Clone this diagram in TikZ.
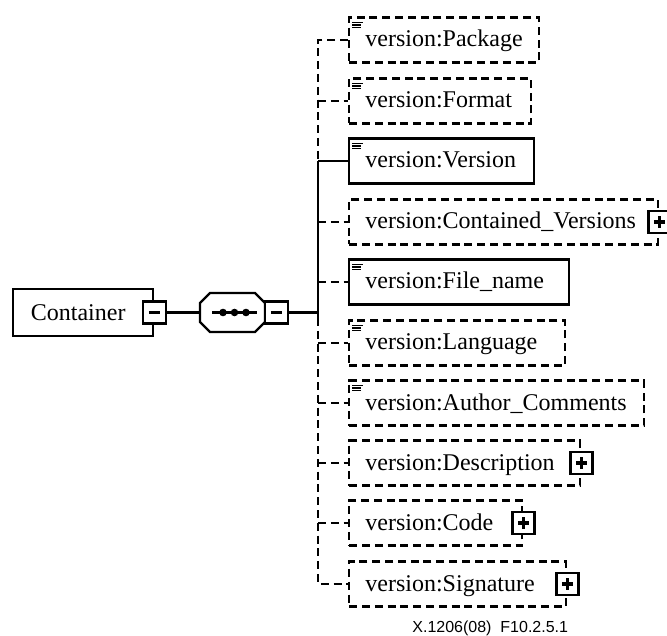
\documentclass[tikz,border=0pt]{standalone}
\usepackage{fontspec}
\setmainfont{Liberation Serif}
\newfontfamily\capfont{Liberation Sans}
\begin{document}
\begin{tikzpicture}[x=0.5pt,y=-0.5pt,
  box/.style={draw, line width=1.2pt, minimum height=22.5pt, inner sep=0pt, anchor=west, fill=white},
  optbox/.style={box, dash pattern=on 4pt off 2.4pt},
  reqbox/.style={box},
  lbl/.style={font=\fontsize{12}{14}\selectfont, anchor=base west, inner sep=0pt},
  conn/.style={line width=1.2pt},
  optconn/.style={conn, dash pattern=on 4pt off 2.4pt},
  thickconn/.style={line width=1.9pt},
  icon/.style={line width=0.6pt},
  signbox/.style={draw, fill=white, line width=1.2pt, minimum width=11pt, minimum height=11pt, inner sep=0pt},
  plusbox/.style={signbox, path picture={
      \draw[line width=1.6pt] ([xshift=-2.8pt]path picture bounding box.center) -- ([xshift=2.8pt]path picture bounding box.center)
                              ([yshift=-2.8pt]path picture bounding box.center) -- ([yshift=2.8pt]path picture bounding box.center);}},
  minusbox/.style={signbox, minimum width=11.5pt, path picture={
      \draw[line width=1.6pt] ([xshift=-2.8pt]path picture bounding box.center) -- ([xshift=2.8pt]path picture bounding box.center);}}
]
\useasboundingbox (0,0) rectangle (667,635);

% bus coordinates
\coordinate (b1) at (318,40);
\coordinate (b2) at (318,101);
\coordinate (b3) at (318,161);
\coordinate (b4) at (318,222);
\coordinate (b5) at (318,282);
\coordinate (b6) at (318,343);
\coordinate (b7) at (318,403);
\coordinate (b8) at (318,463);
\coordinate (b9) at (318,523);
\coordinate (b10) at (318,584);
\coordinate (bm) at (318,312.5);
\coordinate (bs) at (318,318);

% child element boxes
\node[optbox, minimum width=95pt]   (pkg)  at (348,40)  {};
\node[optbox, minimum width=91pt]   (fmt)  at (348,101) {};
\node[reqbox, minimum width=92.5pt] (ver)  at (348,161) {};
\node[optbox, minimum width=154.5pt](cv)   at (348,222) {};
\node[reqbox, minimum width=110pt]  (fn)   at (348,282) {};
\node[optbox, minimum width=108pt]  (lang) at (348,343) {};
\node[optbox, minimum width=147.5pt](ac)   at (348,403) {};
\node[optbox, minimum width=115.5pt](desc) at (348,463) {};
\node[optbox, minimum width=86.5pt] (code) at (348,523) {};
\node[optbox, minimum width=108.5pt](sig)  at (348,584) {};

% connectors
\draw[optconn] (pkg.west) -- (b1) -- (b3);
\draw[conn] (b3) -- (bs);
\draw[optconn] (bs) -- (b10) -- (sig.west);
\draw[optconn] (b2) -- (fmt.west);
\draw[conn] (b3) -- (ver.west);
\draw[optconn] (b4) -- (cv.west);
\draw[optconn] (b5) -- (fn.west);
\draw[optconn] (b6) -- (lang.west);
\draw[optconn] (b7) -- (ac.west);
\draw[optconn] (b8) -- (desc.west);
\draw[optconn] (b9) -- (code.west);

% labels
\node[lbl] (pkgt)  at ([shift={(17,7)}]pkg.west)  {version:Package};
\node[lbl] (fmtt)  at ([shift={(17,7)}]fmt.west)  {version:Format};
\node[lbl] (vert)  at ([shift={(17,7)}]ver.west)  {version:Version};
\node[lbl] (cvt)   at ([shift={(17,7)}]cv.west)   {version:Contained\_Versions};
\node[lbl] (fnt)   at ([shift={(17,7)}]fn.west)   {version:File\_name};
\node[lbl] (langt) at ([shift={(17,7)}]lang.west) {version:Language};
\node[lbl] (act)   at ([shift={(17,7)}]ac.west)   {version:Author\_Comments};
\node[lbl] (desct) at ([shift={(17,7)}]desc.west) {version:Description};
\node[lbl] (codet) at ([shift={(17,7)}]code.west) {version:Code};
\node[lbl] (sigt)  at ([shift={(17,7)}]sig.west)  {version:Signature};

% simple-content icons
\foreach \n in {pkg,fmt,ver,fn,lang,ac}{
  \draw[icon] ([shift={(4,6)}]\n.north west) -- ++(11,0);
  \draw[icon] ([shift={(4,8.7)}]\n.north west) -- ++(9,0);
  \draw[icon] ([shift={(4,11.4)}]\n.north west) -- ++(9,0);
}

% expand boxes
\node[plusbox] (cvp)   at (cv.east)   {};
\node[plusbox] (descp) at (desc.east) {};
\node[plusbox] (codep) at (code.east) {};
\node[plusbox] (sigp)  at (sig.east)  {};

% parent element and sequence
\node[box, minimum width=70pt, minimum height=23.5pt, font=\fontsize{12}{14}\selectfont] (cont) at (12,312.5) {Container\hspace*{5pt}};
\node[minusbox] (m1) at (cont.east) {};
\node[inner sep=0pt, minimum width=32.5pt, minimum height=19.5pt] (seq) at (232.5,312.5) {};
\draw[thickconn] (m1.east) -- (seq.west);
\draw[line width=1.2pt, fill=white] (200,303) -- (210,293) -- (255,293) -- (265,303) -- (265,322) -- (255,332) -- (210,332) -- (200,322) -- cycle;
\draw[thickconn] (212,312.5) -- (257,312.5);
\fill (223,312.5) circle (1.9pt) (234.5,312.5) circle (1.9pt) (246,312.5) circle (1.9pt);
\node[minusbox] (m2) at (276.5,312.5) {};
\draw[conn] (m2.east) -- (bm);

% caption
\node[font=\capfont\fontsize{8}{9.6}\selectfont, anchor=base west, inner sep=0pt] (cap) at (412,632) {X.1206(08)\ \ F10.2.5.1};
\end{tikzpicture}
\end{document}
